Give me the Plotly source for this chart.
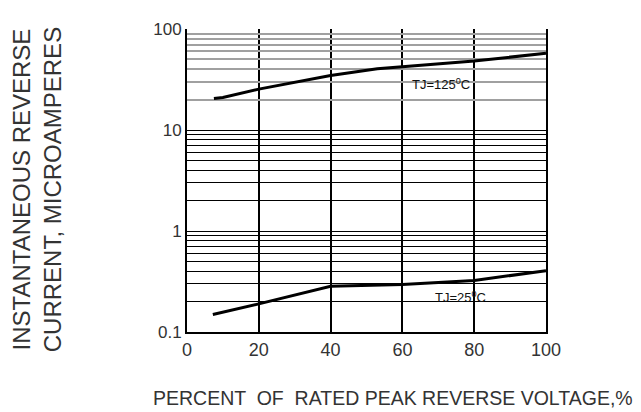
import plotly.graph_objects as go

# Data
pct_125 = [7.5, 10, 20, 40, 53, 60, 80, 100]
cur_125 = [20.5, 21.0, 25.4, 34.6, 40.4, 42.2, 48.2, 57.5]

pct_25 = [7.2, 20, 40, 60, 80, 100]
cur_25 = [0.149, 0.190, 0.283, 0.296, 0.324, 0.404]

x_ticks = [0, 20, 40, 60, 80, 100]
y_decades = [0.1, 1, 10, 100]
y_decade_labels = ["0.1", "1", "10", "100"]

label_125 = "TJ=125<sup>0</sup>C"
label_25 = "TJ=25<sup>0</sup>C"
y_title = "INSTANTANEOUS REVERSE<br>CURRENT, MICROAMPERES"
x_title = "PERCENT  OF  RATED PEAK REVERSE VOLTAGE,%"

# grid values
black_minor = [0.2, 0.3, 0.4, 0.5, 0.6, 0.7, 0.8, 0.9,
               2, 3, 4, 5, 6, 7, 8, 9]
gray_minor = [20, 30, 40, 50, 60, 70, 80, 90]

y_tickvals = y_decades + black_minor
y_ticktext = y_decade_labels + [""] * len(black_minor)

fig = go.Figure()
fig.add_trace(go.Scatter(x=pct_125, y=cur_125, mode="lines",
                         line=dict(color="black", width=3), showlegend=False))
fig.add_trace(go.Scatter(x=pct_25, y=cur_25, mode="lines",
                         line=dict(color="black", width=3), showlegend=False))
# invisible trace on the overlay axis
fig.add_trace(go.Scatter(x=[0], y=[1], yaxis="y2", mode="markers",
                         marker=dict(opacity=0), showlegend=False, hoverinfo="skip"))

font_fam = "Liberation Sans, Arial, sans-serif"

fig.update_layout(
    width=633, height=404,
    margin=dict(l=179, r=95, t=12, b=80),
    paper_bgcolor="white", plot_bgcolor="white",
    xaxis=dict(range=[0, 100], tickvals=x_ticks, ticks="", showgrid=True,
               gridcolor="black", gridwidth=1.5, zeroline=False,
               showline=True, linecolor="black", linewidth=2,
               tickfont=dict(family=font_fam, size=18, color="#333")),
    yaxis=dict(type="log", range=[-1, 2],
               tickvals=y_tickvals, ticktext=y_ticktext,
               ticks="", showgrid=True, gridcolor="black", gridwidth=1.2,
               zeroline=False, showline=True, mirror=True,
               linecolor="black", linewidth=2,
               tickfont=dict(family=font_fam, size=17, color="#333")),
    yaxis2=dict(type="log", range=[-1, 2], overlaying="y", side="left",
                tickvals=gray_minor, showticklabels=False, ticks="",
                showgrid=True, gridcolor="#a0a0a0", gridwidth=2,
                zeroline=False, showline=False),
    annotations=[
        dict(text=label_125, x=70.8, y=1.452, xref="x", yref="y",
             showarrow=False, font=dict(family=font_fam, size=13, color="#111")),
        dict(text=label_25, x=76.3, y=-0.654, xref="x", yref="y",
             showarrow=False, font=dict(family=font_fam, size=13, color="#111")),
        dict(text=y_title, x=-0.418, y=0.471, xref="paper", yref="paper",
             xanchor="center", yanchor="middle",
             textangle=-90, showarrow=False,
             font=dict(family=font_fam, size=24, color="#333")),
        dict(text=x_title, x=0.574, y=-0.218, xref="paper", yref="paper",
             xanchor="center", yanchor="middle",
             showarrow=False,
             font=dict(family=font_fam, size=19.5, color="#333")),
    ],
)

fig.write_html("out.html")
